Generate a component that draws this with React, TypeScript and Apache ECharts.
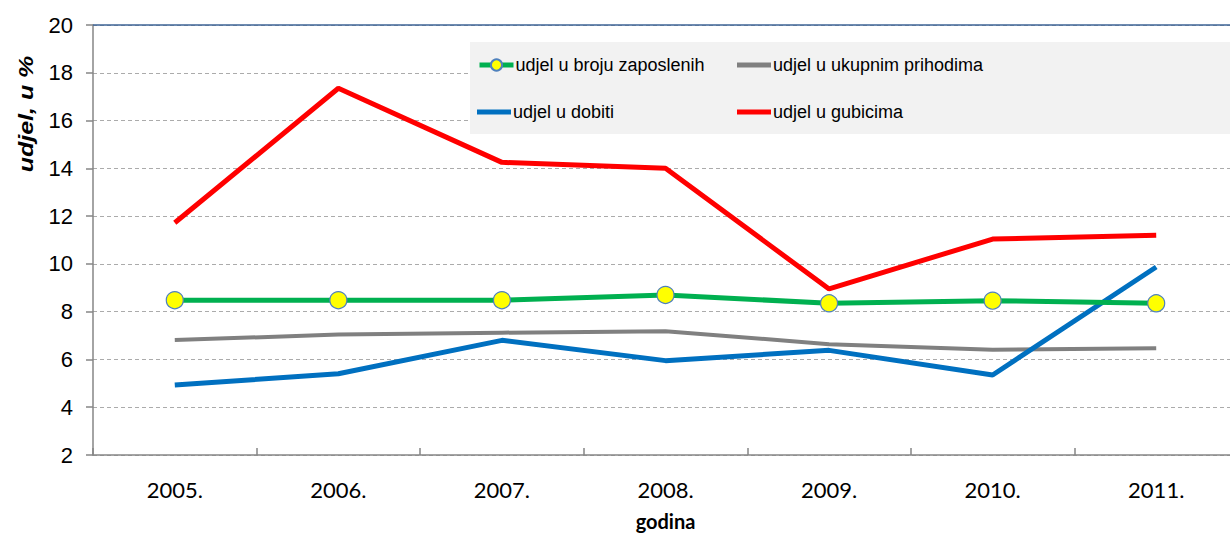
import React, { useEffect, useRef } from "react";
import * as echarts from "echarts";

const categories = ["2005.", "2006.", "2007.", "2008.", "2009.", "2010.", "2011."];
const zaposleni = [8.48, 8.48, 8.48, 8.7, 8.35, 8.46, 8.35];
const prihodi = [6.81, 7.04, 7.12, 7.18, 6.64, 6.41, 6.47];
const dobit = [4.93, 5.4, 6.8, 5.95, 6.38, 5.35, 9.87];
const gubici = [11.72, 17.35, 14.25, 14.0, 8.95, 11.04, 11.2];

const seriesNames = [
  "udjel u broju zaposlenih",
  "udjel u ukupnim prihodima",
  "udjel u dobiti",
  "udjel u gubicima",
];

const legendFont = "'Liberation Sans', Arial, sans-serif";
const barIcon = "path://M0,0h34v5h-34z";

function legendItem(name: string, left: number, top: number, width: number, icon?: string) {
  return {
    show: true,
    data: [icon ? { name, icon } : name],
    left,
    top,
    orient: "horizontal",
    padding: 0,
    itemWidth: 34,
    itemHeight: icon ? 5 : 14,
    selectedMode: false,
    textStyle: {
      fontFamily: legendFont,
      fontSize: 18,
      color: "#000",
      lineHeight: 24,
      padding: [0, 0, 0, -3],
    },
    lineStyle: { width },
  };
}

export default function App() {
  const ref = useRef<HTMLDivElement>(null);
  useEffect(() => {
    if (!ref.current) return;
    const chart = echarts.init(ref.current, undefined, { renderer: "svg" });
    chart.setOption({
      animation: false,
      backgroundColor: "#fff",
      grid: { left: 93, top: 25, bottom: 79, right: 2, containLabel: false, outerBoundsMode: "none" },
      legend: [
        legendItem(seriesNames[0], 477, 53, 5),
        legendItem(seriesNames[1], 737, 53, 4, barIcon),
        legendItem(seriesNames[2], 477, 100, 5, barIcon),
        legendItem(seriesNames[3], 737, 100, 5, barIcon),
      ],
      graphic: [
        {
          type: "rect",
          z: 1,
          silent: true,
          shape: { x: 470, y: 42, width: 780, height: 92 },
          style: { fill: "#F2F2F2" },
        },
        {
          type: "text",
          x: 26,
          y: 114,
          rotation: Math.PI / 2,
          scaleY: 0.8,
          style: {
            text: "udjel, u %",
            fontFamily: "'Liberation Sans', Arial, sans-serif",
            fontSize: 25,
            fontWeight: "bold",
            fontStyle: "italic",
            fill: "#000",
            align: "center",
            verticalAlign: "middle",
          },
        },
      ],
      xAxis: {
        type: "category",
        data: categories,
        boundaryGap: true,
        name: "godina",
        nameLocation: "middle",
        nameGap: 56,
        nameTextStyle: {
          fontFamily: "Lato, 'Open Sans', sans-serif",
          fontSize: 20,
          fontWeight: "bold",
          color: "#000",
        },
        axisLine: { show: true, lineStyle: { color: "#868686", width: 1.5 } },
        axisTick: { show: true, inside: true, length: 7, lineStyle: { color: "#868686", width: 1.5 } },
        axisLabel: {
          fontFamily: "Lato, 'Open Sans', sans-serif",
          fontSize: 22,
          color: "#000",
          margin: 23,
        },
        splitLine: { show: false },
      },
      yAxis: {
        type: "value",
        min: 2,
        max: 20,
        interval: 2,
        axisLine: { show: true, lineStyle: { color: "#868686", width: 1.5 } },
        axisTick: { show: true, inside: false, length: 7, lineStyle: { color: "#868686", width: 1.5 } },
        axisLabel: {
          fontFamily: "'Liberation Sans', Arial, sans-serif",
          fontSize: 22,
          color: "#000",
          margin: 20,
        },
        splitLine: {
          show: true,
          lineStyle: { color: "#ABABAB", type: [4, 3], width: 1 },
        },
      },
      series: [
        {
          name: seriesNames[0],
          type: "line",
          data: zaposleni,
          symbol: "circle",
          symbolSize: 17,
          lineStyle: { color: "#00B050", width: 5 },
          itemStyle: { color: "#FFFF00", borderColor: "#4F81BD", borderWidth: 1.2 },
          z: 5,
          markLine: {
            silent: true,
            symbol: "none",
            label: { show: false },
            lineStyle: { color: "#3D6396", type: "solid", width: 1.5 },
            data: [{ yAxis: 20 }],
          },
        },
        {
          name: seriesNames[1],
          type: "line",
          data: prihodi,
          symbol: "none",
          lineStyle: { color: "#808080", width: 4 },
          itemStyle: { color: "#808080" },
        },
        {
          name: seriesNames[2],
          type: "line",
          data: dobit,
          symbol: "none",
          lineStyle: { color: "#0070C0", width: 5 },
          itemStyle: { color: "#0070C0" },
        },
        {
          name: seriesNames[3],
          type: "line",
          data: gubici,
          symbol: "none",
          lineStyle: { color: "#FF0000", width: 5 },
          itemStyle: { color: "#FF0000" },
        },
      ],
    });
    return () => chart.dispose();
  }, []);
  return (
    <div style={{ position: "fixed", left: 0, top: 0, width: 1230, height: 534, overflow: "hidden" }}>
      <div ref={ref} style={{ position: "absolute", left: 0, top: 0, width: 1240, height: 534 }} />
    </div>
  );
}
